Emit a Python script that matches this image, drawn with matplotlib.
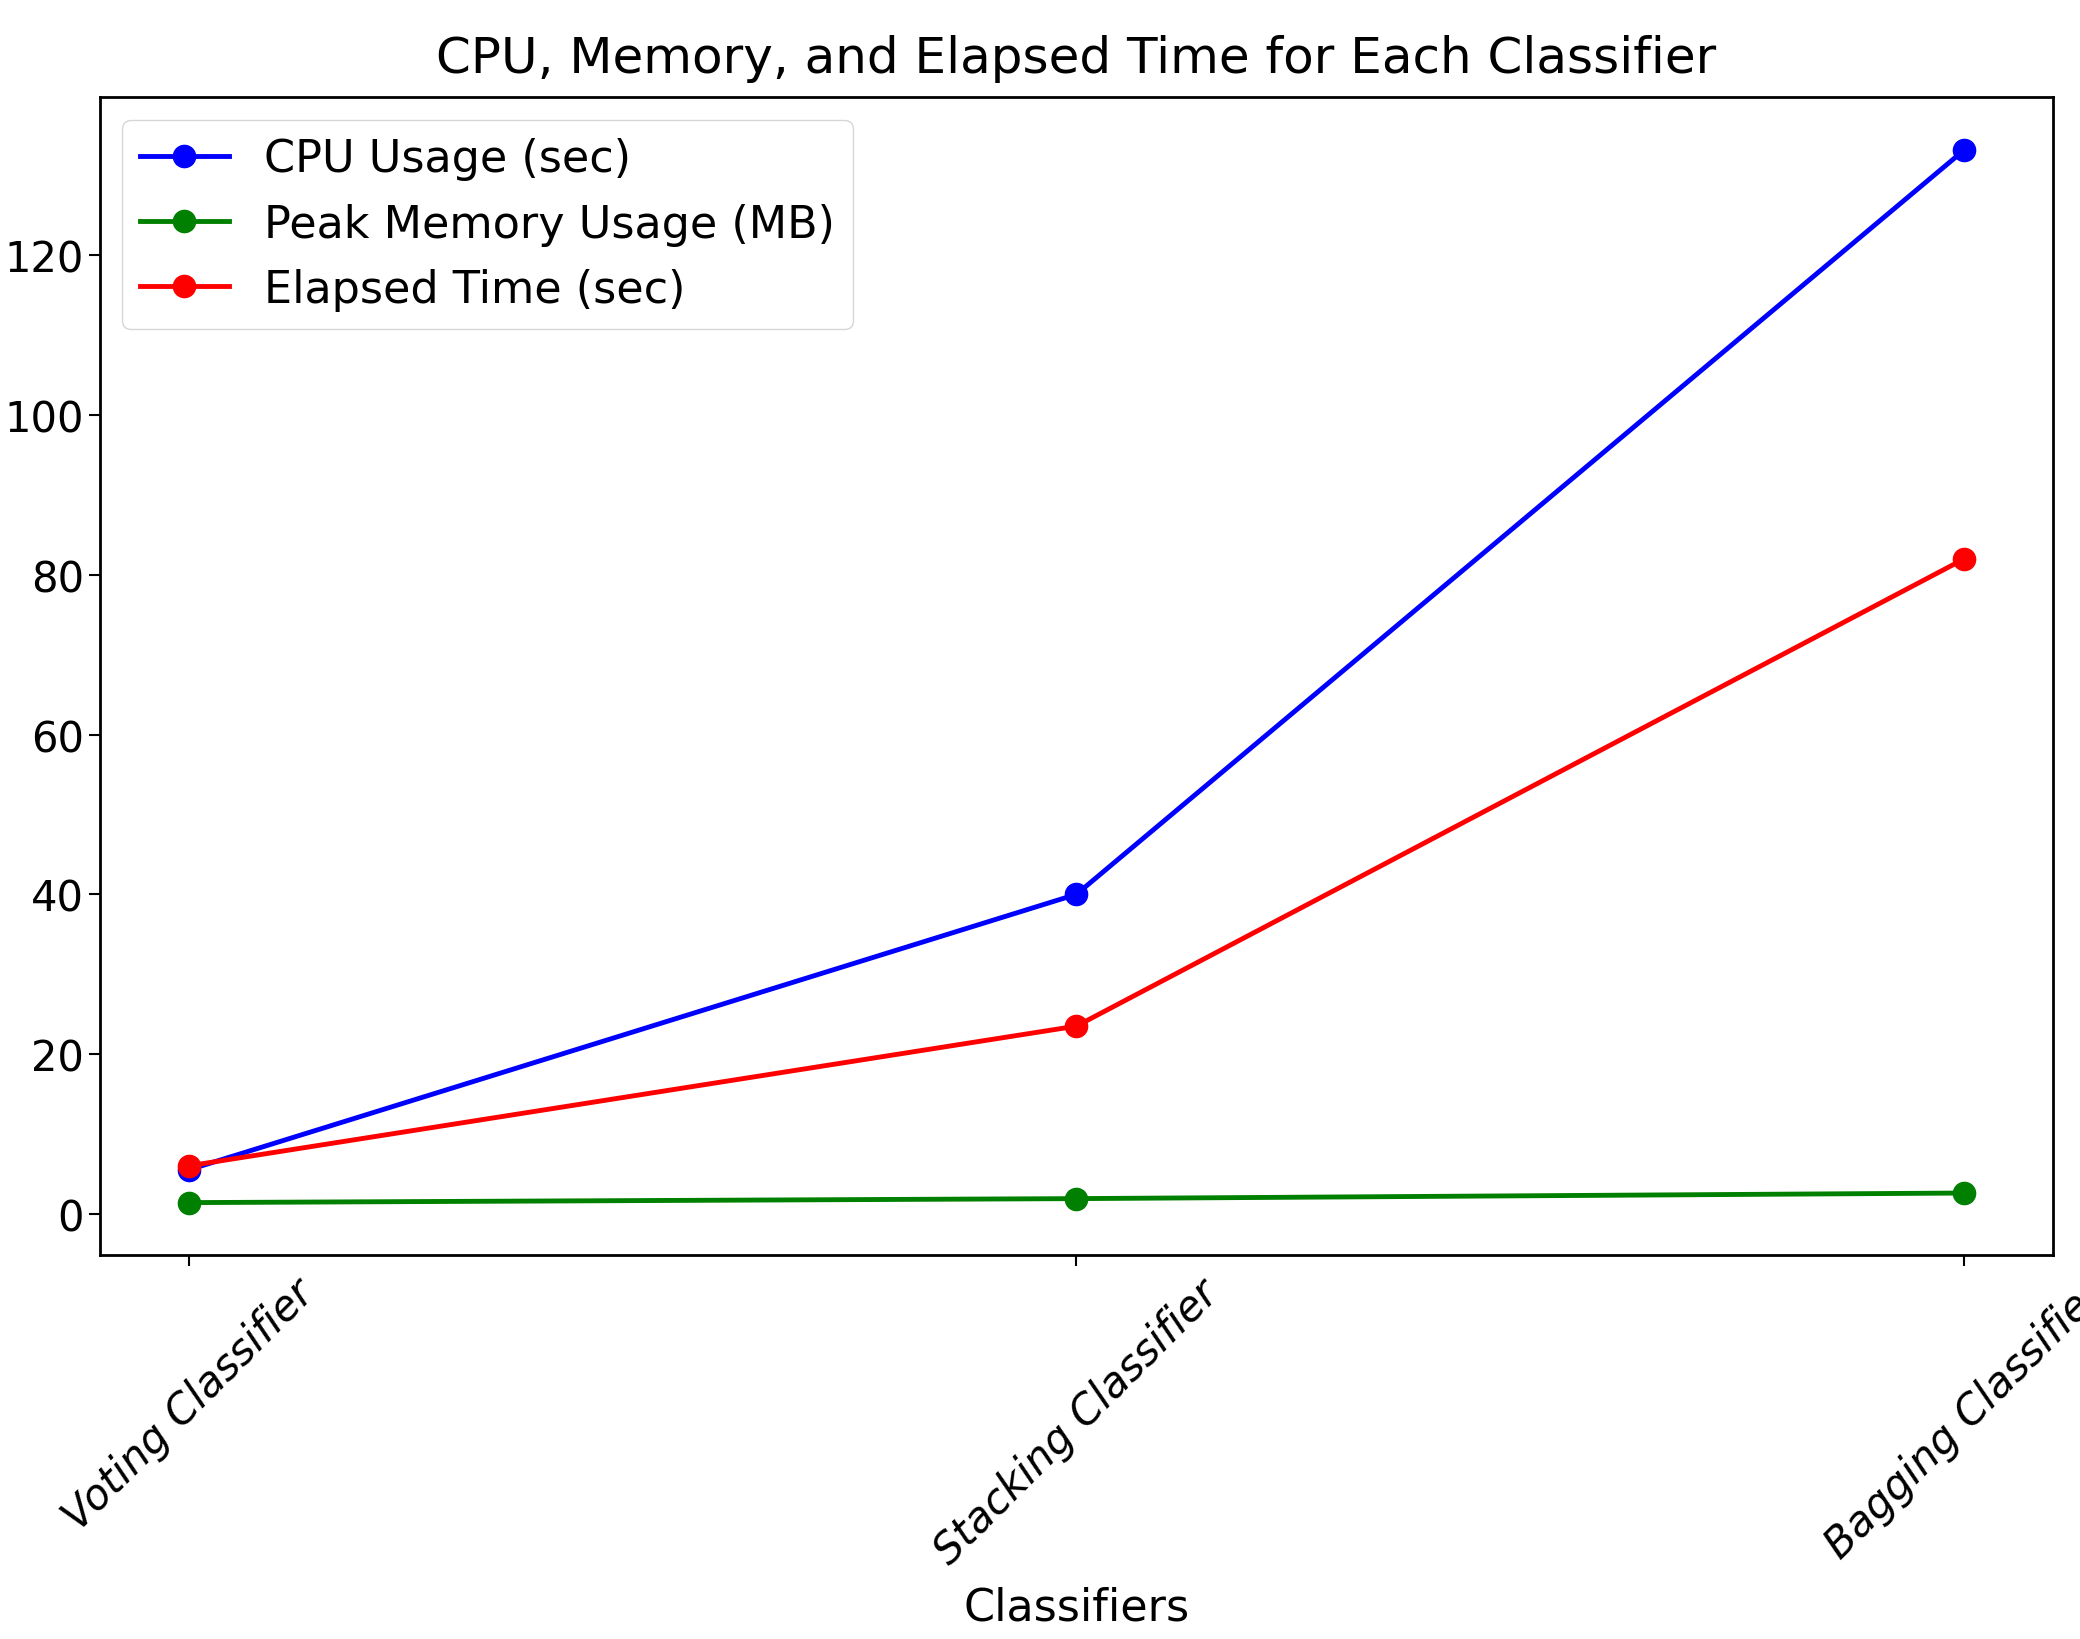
import matplotlib.pyplot as plt

plt.rcParams['font.family'] = ['Liberation Sans Narrow', 'DejaVu Sans']

classifiers = ["Voting Classifier", "Stacking Classifier", "Bagging Classifier"]
cpu_usage = [5.5, 40.0, 133.2]
peak_memory = [1.4, 1.9, 2.6]
elapsed_time = [6.0, 23.5, 82.0]

fig, ax = plt.subplots(figsize=(20.8, 16.4), dpi=100)
fig.subplots_adjust(left=0.048, right=0.987, top=0.94, bottom=0.234)

ax.plot(classifiers, cpu_usage, marker='o', color='blue', linewidth=3.5, markersize=16, label='CPU Usage (sec)')
ax.plot(classifiers, peak_memory, marker='o', color='green', linewidth=3.5, markersize=16, label='Peak Memory Usage (MB)')
ax.plot(classifiers, elapsed_time, marker='o', color='red', linewidth=3.5, markersize=16, label='Elapsed Time (sec)')

ax.set_title("CPU, Memory, and Elapsed Time for Each Classifier", fontsize=36, pad=18)
ax.set_xlabel("Classifiers", fontsize=32, labelpad=10)
ax.tick_params(axis='both', labelsize=30, length=8, width=1.5)
plt.setp(ax.get_xticklabels(), rotation=45, fontstyle='italic')
for s in ax.spines.values():
    s.set_linewidth(2)
ax.legend(loc='upper left', fontsize=32)

plt.savefig('out.png')
plt.close()
